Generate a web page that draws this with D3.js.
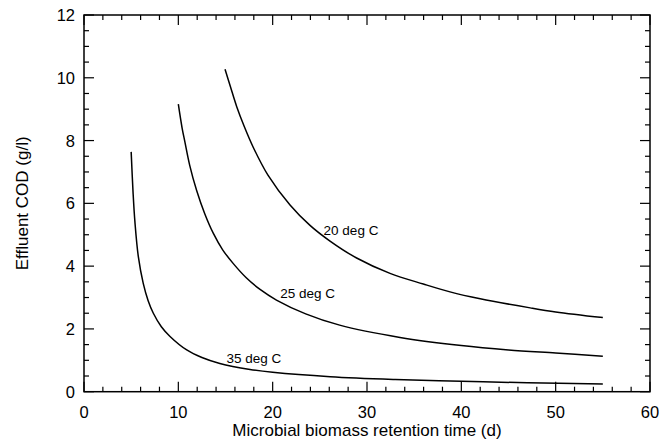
<!DOCTYPE html>
<html><head><meta charset="utf-8">
<script src="https://cdn.jsdelivr.net/npm/d3@7"></script>
<style>body{margin:0;background:#fff}svg{display:block}</style>
</head><body>
<svg id="c" width="660" height="443"></svg>
<script>
const xTicks = [0,10,20,30,40,50,60];
const yTicks = [0,2,4,6,8,10,12];
const srt20 = [14.95,15.5,16.19,17.0,17.95,19.5,21.84,23.96,26.08,28.9,32.44,35.97,38.8,42.0,47.3,50,55];
const cod20 = [10.27,9.74,9.08,8.44,7.78,6.9,5.95,5.3,4.8,4.26,3.77,3.43,3.18,2.96,2.67,2.54,2.36];
const srt25 = [10.0,10.4,10.7,11.2,11.95,12.8,13.7,14.7,15.83,17.2,18.7,20.4,23.5,27.1,33.5,40,45,50,55];
const cod25 = [9.16,8.4,7.95,7.22,6.4,5.67,5.05,4.52,4.08,3.63,3.25,2.92,2.48,2.12,1.73,1.47,1.33,1.23,1.13];
const srt35 = [5.0,5.2,5.4,5.76,6.28,6.8,7.35,8.2,9.12,10.89,12.5,14.4,17.6,20,26.1,33,40,47,55];
const cod35 = [7.64,6.35,5.4,4.3,3.45,2.9,2.5,2.07,1.76,1.33,1.09,0.9,0.71,0.62,0.48,0.39,0.33,0.285,0.245];
const seriesLabels = ["20 deg C","25 deg C","35 deg C"];
const xTitle = "Microbial biomass retention time (d)";
const yTitle = "Effluent COD (g/l)";

const L=84, R=650, T=15, B=391.7;
const svg=d3.select("#c");
const x=d3.scaleLinear().domain([0,60]).range([L,R]);
const y=d3.scaleLinear().domain([0,12]).range([B,T]);
const font="Liberation Sans, Arial, Helvetica, sans-serif";

const g=svg.append("g").attr("stroke","#000").attr("fill","none");
const xMinor=d3.range(0,61,2), yMinor=d3.range(0,12.01,0.5);
xMinor.forEach(v=>{
  const len = v%10===0?10:5;
  g.append("line").attr("x1",x(v)).attr("x2",x(v)).attr("y1",B).attr("y2",B-len).attr("stroke-width",1.2);
  g.append("line").attr("x1",x(v)).attr("x2",x(v)).attr("y1",T).attr("y2",T+len).attr("stroke-width",1.2);
});
yMinor.forEach(v=>{
  const len = Math.abs(v%2)<1e-9?10:5;
  g.append("line").attr("y1",y(v)).attr("y2",y(v)).attr("x1",L).attr("x2",L+len).attr("stroke-width",1.2);
  g.append("line").attr("y1",y(v)).attr("y2",y(v)).attr("x1",R).attr("x2",R-len).attr("stroke-width",1.2);
});
g.append("rect").attr("x",L).attr("y",T).attr("width",R-L).attr("height",B-T).attr("stroke-width",1.5);

svg.selectAll(".xl").data(xTicks).enter().append("text")
  .attr("x",d=>x(d)).attr("y",417.5).attr("text-anchor","middle")
  .attr("font-family",font).attr("font-size",16.5).text(d=>d);
svg.selectAll(".yl").data(yTicks).enter().append("text")
  .attr("x",L-9).attr("y",d=>y(d)+6).attr("text-anchor","end")
  .attr("font-family",font).attr("font-size",16.5).text(d=>d);

svg.append("text").attr("x",(L+R)/2).attr("y",436).attr("text-anchor","middle")
  .attr("font-family",font).attr("font-size",17).text(xTitle);
svg.append("text").attr("transform",`translate(27.5,${(T+B)/2}) rotate(-90)`).attr("text-anchor","middle")
  .attr("font-family",font).attr("font-size",17).text(yTitle);

const line=d3.line().x(d=>x(d[0])).y(d=>y(d[1])).curve(d3.curveCatmullRom.alpha(0.5));
[[srt20,cod20],[srt25,cod25],[srt35,cod35]].forEach(([xs,ys])=>{
  svg.append("path").attr("d",line(xs.map((v,i)=>[v,ys[i]])))
    .attr("fill","none").attr("stroke","#000").attr("stroke-width",1.5);
});

const labPos=[[25.4,5.0],[20.8,3.0],[15.1,0.93]];
seriesLabels.forEach((t,i)=>{
  svg.append("text").attr("x",x(labPos[i][0])).attr("y",y(labPos[i][1]))
    .attr("font-family",font).attr("font-size",13.5).text(t);
});
</script>
</body></html>
